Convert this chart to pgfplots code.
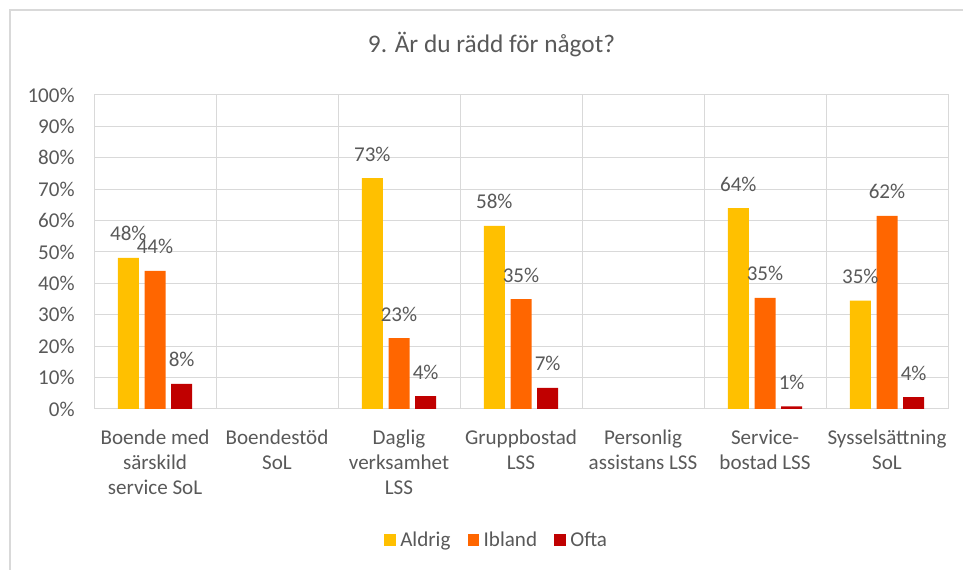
\documentclass[border=0pt]{standalone}
\usepackage{pgfplots}
\pgfplotsset{compat=1.18}
\usepackage{fontspec}
\setmainfont{Carlito}
\definecolor{txt}{HTML}{595959}
\definecolor{gridc}{HTML}{D9D9D9}
\definecolor{cA}{HTML}{FFC000}
\definecolor{cI}{HTML}{FF6600}
\definecolor{cO}{HTML}{C00000}
\pgfplotsset{sqleg/.style={legend image code/.code={\fill[##1] (0pt,-4.2pt) rectangle (8.4pt,4.2pt);}}}
\begin{document}
\begin{tikzpicture}[x=0.75pt,y=0.75pt]
\useasboundingbox (0,0) rectangle (963,570);
\draw[gridc, line width=1.5pt] (9.5,0) -- (9.5,560) -- (963,560);
\node[txt, font=\fontsize{19}{23}\selectfont] at (491.5,525) {9. Är du rädd för något?};
\begin{axis}[at={(70.5pt,120.75pt)}, anchor=south west, scale only axis,
 width=640.5pt, height=235.5pt,
 ybar=4.25pt, bar width=15.75pt,
 xmin=-0.5, xmax=6.5, ymin=0, ymax=100,
 xtick={0,...,6}, minor xtick={-0.5,0.5,...,6.5}, xminorgrids, ymajorgrids,
 ytick={0,10,...,100},
 major tick length=0, minor tick length=0,
 axis line style={gridc, line width=0.75pt},
 major grid style={gridc, line width=0.75pt},
 minor grid style={gridc, line width=0.75pt},
 tick label style={txt, font=\fontsize{15.8}{18.75}\selectfont},
 /pgf/number format/assume math mode=true,
 yticklabel={\pgfmathprintnumber{\tick}\%},
 yticklabel style={xshift=-11pt},
 xticklabels={{Boende med\\särskild\\service SoL},{Boendestöd\\SoL},{Daglig\\verksamhet\\LSS},{Gruppbostad\\LSS},{Personlig\\assistans LSS},{Service-\\bostad LSS},{Sysselsättning\\SoL}},
 xticklabel style={align=center, yshift=-12pt},
 point meta=explicit,
 nodes near coords={\pgfmathprintnumber{\pgfplotspointmeta}\%},
 every node near coord/.append style={txt, font=\fontsize{15.8}{18.75}\selectfont, anchor=base, yshift=12.75pt},
 legend style={at={(0.472,-0.417)}, anchor=center, draw=none, legend columns=3,
   font=\fontsize{15.8}{18.75}\selectfont, text=txt,
   /tikz/every odd column/.append style={column sep=1.5pt},
   /tikz/every even column/.append style={column sep=11pt}},
]
\addplot[fill=cA, draw=none, sqleg] coordinates {
 (0,48.1) [48] (2,73.5) [73] (3,58.3) [58] (5,64.0) [64] (6,34.5) [35]};
\addplot[fill=cI, draw=none, sqleg] coordinates {
 (0,44.0) [44] (2,22.6) [23] (3,35.0) [35] (5,35.4) [35] (6,61.5) [62]};
\addplot[fill=cO, draw=none, sqleg] coordinates {
 (0,8.0) [8] (2,4.1) [4] (3,6.7) [7] (5,0.8) [1] (6,3.8) [4]};
\legend{Aldrig, Ibland, Ofta}
\end{axis}
\end{tikzpicture}
\end{document}
